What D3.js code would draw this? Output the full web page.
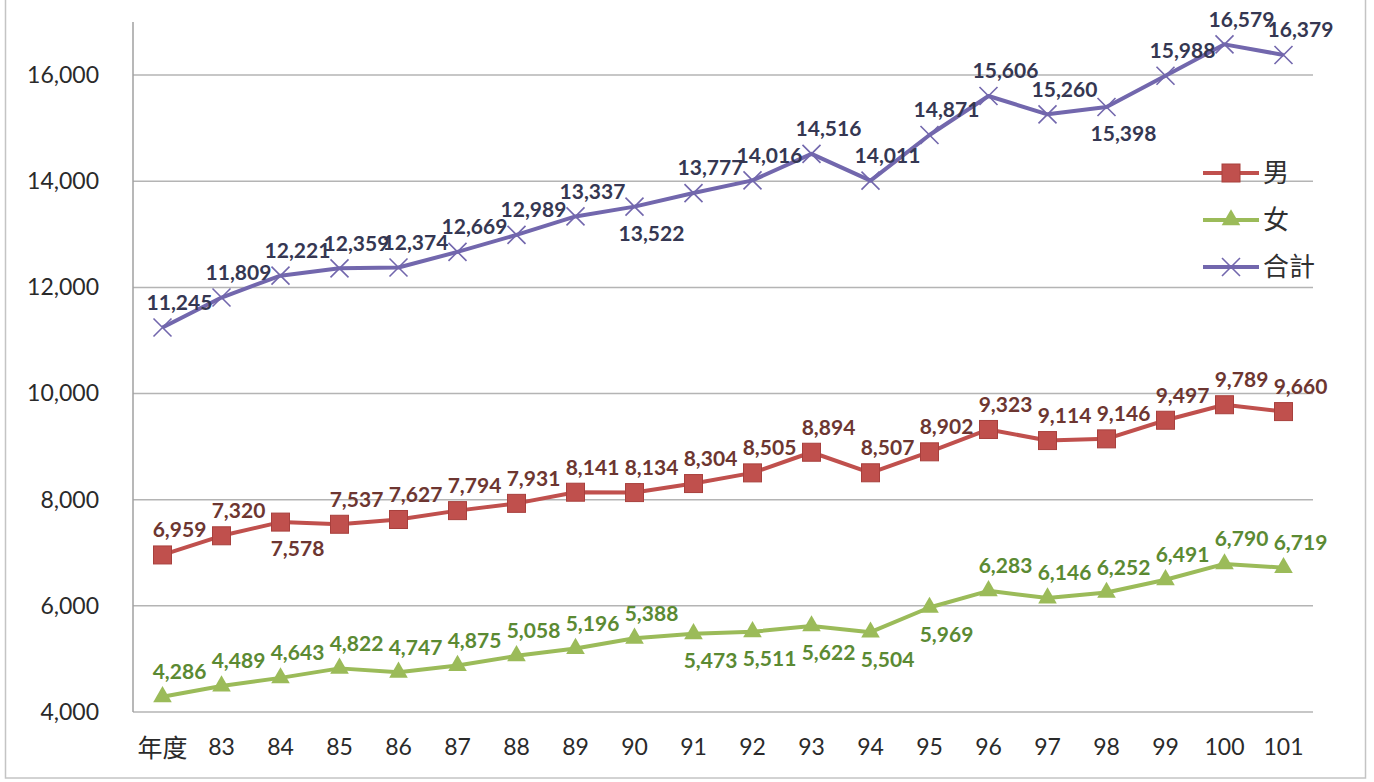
<!DOCTYPE html>
<html>
<head>
<meta charset="utf-8">
<script src="https://cdn.jsdelivr.net/npm/d3@7"></script>
<style>
  body { margin: 0; background: #fff; }
  svg { display: block; }
</style>
</head>
<body>
<svg id="chart"></svg>
<script>
// ================= DATA =================
const years = ["年度", "83", "84", "85", "86", "87", "88", "89", "90", "91", "92", "93", "94", "95", "96", "97", "98", "99", "100", "101"];
const male = [6959, 7320, 7578, 7537, 7627, 7794, 7931, 8141, 8134, 8304, 8505, 8894, 8507, 8902, 9323, 9114, 9146, 9497, 9789, 9660];
const female = [4286, 4489, 4643, 4822, 4747, 4875, 5058, 5196, 5388, 5473, 5511, 5622, 5504, 5969, 6283, 6146, 6252, 6491, 6790, 6719];
const total = [11245, 11809, 12221, 12359, 12374, 12669, 12989, 13337, 13522, 13777, 14016, 14516, 14011, 14871, 15606, 15260, 15398, 15988, 16579, 16379];
const yTicks = [4000, 6000, 8000, 10000, 12000, 14000, 16000];
const seriesNames = ["男", "女", "合計"];

// which labels sit under the point instead of above it
const maleBelow = [2];
const femaleBelow = [9, 10, 11, 12, 13];
const totalBelow = [8, 16];

// ================= SETUP =================
const W = 1374, H = 782;
const plotLeft = 133, plotRight = 1313, plotTop = 22, plotBottom = 712;

const svg = d3.select("#chart").attr("width", W).attr("height", H);

// outer frame
svg.append("rect")
  .attr("x", 5.5).attr("y", -5).attr("width", 1360).attr("height", 783)
  .attr("fill", "none").attr("stroke", "#c4c4c4").attr("stroke-width", 1.5);

const xs = d3.scaleBand().domain(years).range([plotLeft, plotRight]);
const ys = d3.scaleLinear().domain([4000, 17000]).range([plotBottom, plotTop]);
const cx = d => xs(d) + xs.bandwidth() / 2;

// ================= GRID / AXES =================
svg.append("g")
  .selectAll("line")
  .data(yTicks)
  .join("line")
  .attr("x1", plotLeft).attr("x2", plotRight)
  .attr("y1", d => ys(d)).attr("y2", d => ys(d))
  .attr("stroke", "#b4b4b4").attr("stroke-width", 1.5);

svg.append("line")
  .attr("x1", plotLeft).attr("x2", plotLeft).attr("y1", plotTop).attr("y2", plotBottom)
  .attr("stroke", "#a0a0a0").attr("stroke-width", 1.5);

const yAxis = svg.append("g")
  .attr("transform", "translate(" + (plotLeft - 31) + ",0)")
  .call(d3.axisLeft(ys).tickValues(yTicks).tickFormat(d3.format(",")).tickSize(0));
yAxis.select(".domain").remove();
yAxis.selectAll("text")
  .attr("font-family", "Lato, 'Noto Sans', sans-serif")
  .attr("font-size", 23).attr("fill", "#2a2a2a").attr("dx", 0);

const xAxis = svg.append("g")
  .attr("transform", "translate(0," + (plotBottom + 24) + ")")
  .call(d3.axisBottom(xs).tickSize(0));
xAxis.select(".domain").remove();
xAxis.selectAll("text")
  .attr("font-family", "Lato, 'Noto Sans CJK TC', sans-serif")
  .attr("font-size", d => d === "年度" ? 25 : 23)
  .attr("fill", "#2a2a2a");

// ================= LINES =================
const series = [
  { name: seriesNames[0], values: male, color: "#c0504d", labelColor: "#6d3631", below: maleBelow, marker: "square" },
  { name: seriesNames[1], values: female, color: "#9bbb59", labelColor: "#5b8a33", below: femaleBelow, marker: "triangle" },
  { name: seriesNames[2], values: total, color: "#7267ad", labelColor: "#353752", below: totalBelow, marker: "cross" }
];

const line = d3.line()
  .x((d, i) => cx(years[i]))
  .y(d => ys(d));

function drawMarker(g, type, color) {
  if (type === "square") {
    g.append("rect").attr("x", -9).attr("y", -9).attr("width", 18).attr("height", 18)
      .attr("fill", color).attr("stroke", "#a8403d").attr("stroke-width", 1);
  } else if (type === "triangle") {
    g.append("path").attr("d", d3.symbol(d3.symbolTriangle, 150)())
      .attr("fill", color);
  } else {
    g.append("path").attr("d", "M-9,-9L9,9M-9,9L9,-9")
      .attr("stroke", color).attr("stroke-width", 1.6).attr("fill", "none");
  }
}

series.forEach(s => {
  svg.append("path")
    .datum(s.values)
    .attr("fill", "none")
    .attr("stroke", s.color)
    .attr("stroke-width", 4)
    .attr("stroke-linejoin", "round")
    .attr("d", line);

  s.values.forEach((v, i) => {
    const g = svg.append("g").attr("transform", "translate(" + cx(years[i]) + "," + ys(v) + ")");
    drawMarker(g, s.marker, s.color);
  });

  svg.append("g")
    .selectAll("text")
    .data(s.values)
    .join("text")
    .attr("x", (d, i) => cx(years[i]) + 17)
    .attr("y", (d, i) => ys(d) + (s.below.includes(i) ? 27 : -25))
    .attr("dy", "0.35em")
    .attr("text-anchor", "middle")
    .attr("font-family", "Lato, 'Open Sans', sans-serif")
    .attr("font-weight", "bold")
    .attr("font-size", 21)
    .attr("fill", s.labelColor)
    .text(d => d3.format(",")(d));
});

// ================= LEGEND =================
const legend = svg.append("g").attr("transform", "translate(1203,173)");
series.forEach((s, i) => {
  const row = legend.append("g").attr("transform", "translate(0," + (i * 47) + ")");
  row.append("line").attr("x1", 0).attr("x2", 56).attr("y1", 0).attr("y2", 0)
    .attr("stroke", s.color).attr("stroke-width", 4);
  const m = row.append("g").attr("transform", "translate(28,0)");
  drawMarker(m, s.marker, s.color);
  row.append("text")
    .attr("x", 60).attr("y", 0).attr("dy", "0.36em")
    .attr("font-family", "'Noto Sans CJK TC', sans-serif")
    .attr("font-size", 26).attr("fill", "#303030")
    .text(s.name);
});
</script>
</body>
</html>
